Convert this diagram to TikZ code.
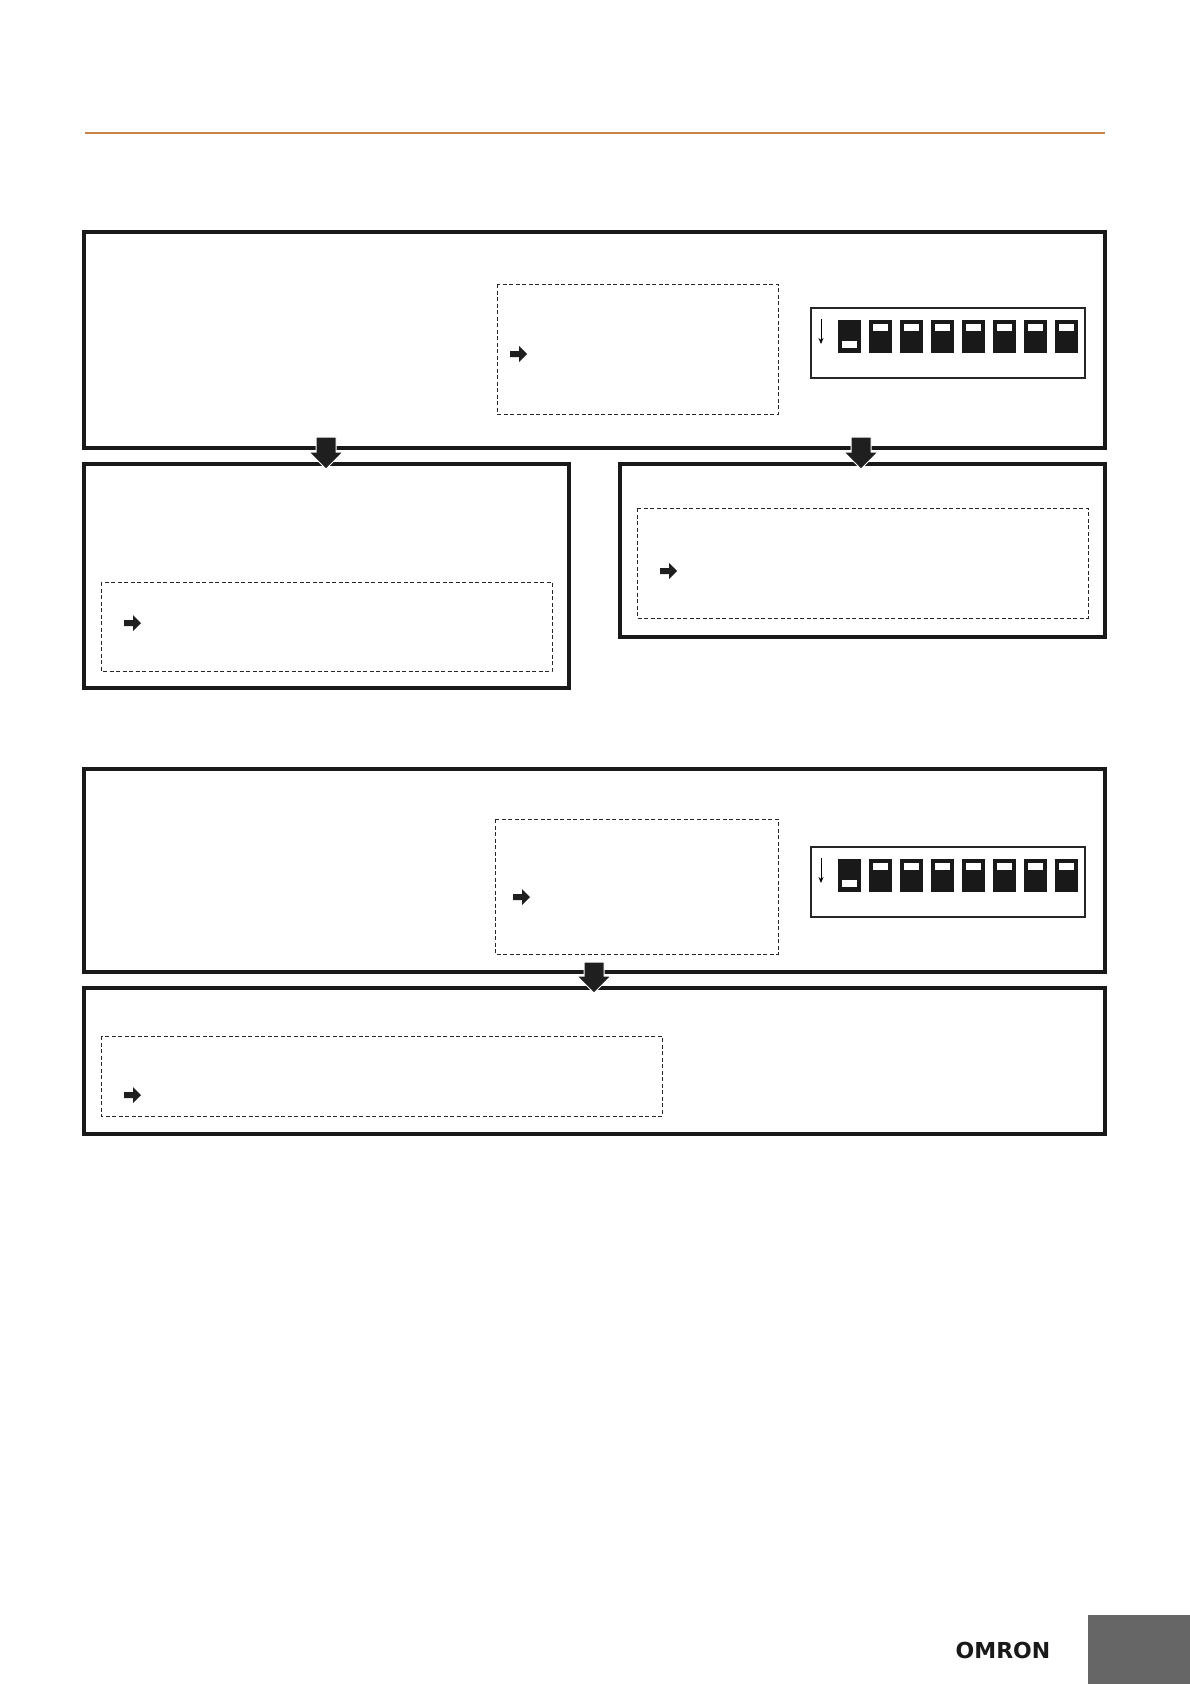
\documentclass[tikz,border=0pt]{standalone}
\usepackage{fontspec}
\usetikzlibrary{arrows.meta}
\newfontfamily\logofont{DejaVu Sans}
\begin{document}
\begin{tikzpicture}[x=1pt,y=-1pt,
  solidbox/.style={draw=black!90,line width=3.4pt},
  dashbox/.style={draw=black!85,line width=0.9pt,dash pattern=on 4pt off 2.5pt},
  dipbox/.style={draw=black!85,line width=1.1pt},
  bigarrow/.style={fill=black!88,draw=white,line width=1pt},
  pics/harrow/.style={code={\fill[black!88] (-8,-3)--(1,-3)--(1,-8)--(9,0)--(1,8)--(1,3)--(-8,3)--cycle;}},
  pics/dip/.style={code={
    \draw[dipbox] (0,0) rectangle (274,70);
    \draw[line width=0.8pt,-{Stealth[length=6pt,width=5pt]}] (10,11)--(10,36);
    \foreach \i in {0,...,7}{\fill[black!90] (27+\i*31,12) rectangle ++(23,33);}
    \fill[white] (31,33) rectangle ++(15,7);
    \foreach \i in {1,...,7}{\fill[white] (31+\i*31,16) rectangle ++(15,7);}
  }}]
\useasboundingbox (0,0) rectangle (1190,1684);
\fill[white] (0,0) rectangle (1190,1684);
\draw[draw={rgb,255:red,200;green,130;blue,70},line width=1.2pt] (85,133)--(1105,133);
% top group
\draw[solidbox] (84,232) rectangle (1105,448);
\draw[dashbox] (497,284) rectangle (778,414);
\pic at (518,354) {harrow};
\pic at (811,308) {dip};
\draw[solidbox] (84,464) rectangle (569,688);
\draw[dashbox] (101,582) rectangle (552,671);
\pic at (132,623) {harrow};
\draw[solidbox] (620,464) rectangle (1105,637);
\draw[dashbox] (637,508) rectangle (1088,618);
\pic at (668,571) {harrow};
\foreach \cx in {326,861}{\filldraw[bigarrow] (\cx-10,437)--(\cx+10,437)--(\cx+10,452)--(\cx+17,452)--(\cx,469)--(\cx-17,452)--(\cx-10,452)--cycle;}
% bottom group
\draw[solidbox] (84,769) rectangle (1105,972);
\draw[dashbox] (495,819) rectangle (778,954);
\pic at (521,897) {harrow};
\pic at (811,847) {dip};
\draw[solidbox] (84,988) rectangle (1105,1134);
\draw[dashbox] (101,1036) rectangle (662,1116);
\pic at (132,1095) {harrow};
\filldraw[bigarrow] (584,962)--(604,962)--(604,976)--(611,976)--(594,993)--(577,976)--(584,976)--cycle;
% footer
\node[font=\logofont\bfseries\fontsize{22}{22}\selectfont,text=black!90,inner sep=0pt] (logo) at (1003,1650) {OMRON};
\fill[black!60] (1088,1615) rectangle (1190,1684);
\end{tikzpicture}
\end{document}
